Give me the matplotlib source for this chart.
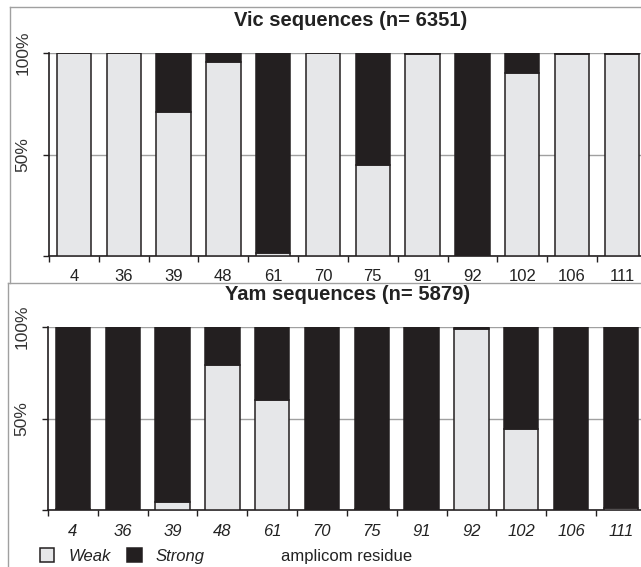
import matplotlib
matplotlib.use("Agg")
import matplotlib.pyplot as plt
from matplotlib.patches import Patch
from matplotlib.lines import Line2D
import numpy as np

plt.rcParams['font.family'] = ['Liberation Sans', 'DejaVu Sans']

# data: share of sequences (%) with a weak residue at each amplicon position
residues = ['4', '36', '39', '48', '61', '70', '75', '91', '92', '102', '106', '111']
vic_weak = [100, 100, 71, 95.5, 1.5, 100, 45, 99.5, 0, 90, 99.5, 99.5]
yam_weak = [0.5, 0, 4.5, 79, 60, 0, 0.5, 0, 99, 44, 0, 1]
titles = ['Vic sequences (n= 6351)', 'Yam sequences (n= 5879)']

light = '#e6e7e9'
dark = '#231f20'
gray = '#a0a0a0'

W, H = 641, 567
fig = plt.figure(figsize=(W / 100, H / 100), dpi=100)


def px(x0, y0, x1, y1):
    # pixel box -> figure fraction [left, bottom, width, height]
    return [x0 / W, 1 - y1 / H, (x1 - x0) / W, (y1 - y0) / H]


ax1 = fig.add_axes(px(49, 53, 646.8, 256))
ax2 = fig.add_axes(px(48, 327, 645.8, 510))

# gray panel frames
fig.add_artist(Line2D([10 / W, 10 / W], [1 - 7 / H, 1 - 283 / H], color=gray, lw=1))
fig.add_artist(Line2D([10 / W, 1], [1 - 7 / H, 1 - 7 / H], color=gray, lw=1))
fig.add_artist(Line2D([8 / W, 1], [1 - 283 / H, 1 - 283 / H], color=gray, lw=1))
fig.add_artist(Line2D([8 / W, 8 / W], [1 - 283 / H, 0], color=gray, lw=1))

x = np.arange(len(residues))
for ax, weak, title, italic in [(ax1, vic_weak, titles[0], False),
                                (ax2, yam_weak, titles[1], True)]:
    weak = np.array(weak, dtype=float)
    strong = 100 - weak
    ax.bar(x, weak, width=0.69, color=light, edgecolor=dark, linewidth=1.1, zorder=3)
    ax.bar(x, strong, bottom=weak, width=0.69, color=dark, edgecolor=dark,
           linewidth=1.1, zorder=3)
    ax.set_xlim(-0.5, len(residues) - 0.5)
    ax.set_ylim(0, 100)
    ax.set_yticks([0, 50, 100])
    ax.set_yticklabels(['', '50%', '100%'], rotation=90, va='center',
                       fontsize=12.5, color='#333333')
    ax.yaxis.grid(True, color=gray, lw=1, zorder=0)
    ax.set_axisbelow(True)
    ax.set_xticks(x)
    ax.set_xticklabels(residues, fontsize=12, color='#222222',
                       style='italic' if italic else 'normal')
    ax.set_xticks(np.arange(len(residues)) - 0.5, minor=True)
    ax.tick_params(axis='x', which='major', length=0, pad=9.5 if not italic else 10)
    ax.tick_params(axis='x', which='minor', length=4, width=1, color=dark)
    ax.tick_params(axis='y', length=4, width=1, color=dark, pad=9.5)
    for s in ['top', 'right']:
        ax.spines[s].set_visible(False)
    for s in ['left', 'bottom']:
        ax.spines[s].set_color(dark)
        ax.spines[s].set_linewidth(1.2)
    ax.set_facecolor('none')

fig.text(351 / W, 1 - 20 / H, titles[0], ha='center', va='center',
         fontsize=14.5, fontweight='bold', color='#222222')
fig.text(348 / W, 1 - 295 / H, titles[1], ha='center', va='center',
         fontsize=14.5, fontweight='bold', color='#222222')

handles = [Patch(facecolor=light, edgecolor=dark, linewidth=1.1, label='Weak'),
           Patch(facecolor=dark, edgecolor=dark, linewidth=1.1, label='Strong')]
leg = fig.legend(handles=handles, loc='center left', bbox_to_anchor=(40 / W, 1 - 556 / H),
                 ncol=2, frameon=False, borderpad=0, borderaxespad=0,
                 handlelength=0.85, handleheight=0.85, handletextpad=0.85,
                 columnspacing=1.0, prop={'size': 12, 'style': 'italic'})
for t in leg.get_texts():
    t.set_color('#222222')

fig.text(347 / W, 1 - 556 / H, 'amplicom residue', ha='center', va='center',
         fontsize=12, color='#222222')

fig.savefig('out.png', dpi=100)
